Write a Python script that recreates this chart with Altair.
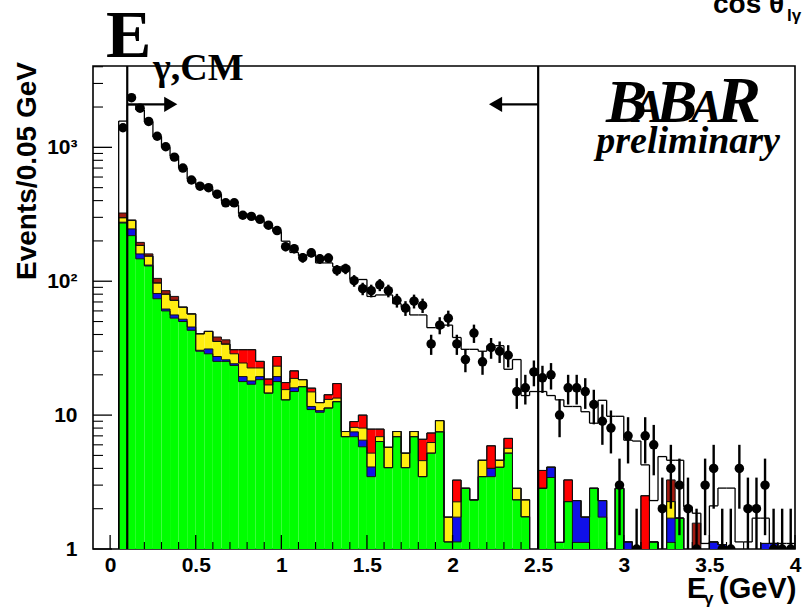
import altair as alt
import pandas as pd
import numpy as np

# ---------------- data (bins of 0.05 GeV from 0 to 4 GeV) ----------------
bin_lo = [round(0.05 * i, 2) for i in range(80)]

data_counts = [0, 1400, 2350, 1960, 1560, 1210, 1010, 845, 700, 570,
               513, 500, 447, 385, 385, 311, 305, 290, 262, 239,
               181, 175, 150, 163, 147, 149, 121, 124, 101, 88,
               85, 94, 85, 72, 63, 71, 66, 34, 47, 53,
               34, 26, 41, 25, 32, 30, 28, 15, 16, 21,
               19, 20, 10, 16, 16, 15, 12, 9, 8, 3,
               7, 1, 7, 6, 2, 4, 3, 2, 1, 3,
               4, 1, 1, 4, 2, 2, 3, 1, 1, 1]

mc_total = [0, 1570, 2080, 1900, 1550, 1200, 1000, 860, 700, 580,
            520, 490, 445, 395, 370, 320, 300, 285, 255, 235,
            199, 164, 155, 160, 137, 137, 128, 128, 103, 103,
            77, 79, 79, 68, 64, 56, 56, 45, 45, 47,
            38, 31, 31, 30, 33, 33, 22, 26, 14, 15,
            15, 14, 13, 11.6, 11.6, 10.6, 8.7, 12.9, 9.8, 9.8,
            6.5, 6.4, 4.25, 2.3, 4.9, 4.6, 4.6, 2.07, 1.85, 1.1,
            2.1, 2.85, 2.85, 1.13, 1.13, 1.7, 1.7, 1.1, 1.1, 1.1]

green = [0, 272, 219, 147, 130, 74, 60, 53, 50, 43,
         30, 28.7, 25.2, 25.2, 23.5, 17.8, 17, 18.4, 14.6, 17.8,
         13, 15, 16.3, 11, 10.5, 11.3, 12.6, 6.9, 6.9, 5.8,
         3.47, 6.35, 4.05, 6.9, 4.05, 6.9, 3.47, 5.2, 7.5, 1.13,
         1.13, 2.84, 2.33, 3.47, 3.47, 4.08, 5.2, 2.33, 1.74, 0,
         2.84, 3.42, 1.12, 2.26, 1.12, 1.12, 2.84, 1.73, 0, 2.84,
         0, 0, 0, 1.13, 0, 1.12, 1.7, 0, 0, 0,
         0, 0, 0, 0, 0, 0, 0, 0, 0, 0]
blue = [0, 4, 27, 13, 2, 7, 2, 3, 2, 2.5,
        0.5, 2.5, 2.2, 0.7, 0.7, 1.6, 1, 1, 0, 1.6,
        0, 1, 0, 0.6, 0.3, 0, 0, 0, 0.6, 0.7,
        0.63, 0, 0, 0, 0, 0, 0, 0, 0, 0,
        0.6, 0, 0, 0, 0.53, 0, 0, 0, 0, 0,
        0, 0.66, 0, 0, 1.18, 0.61, 0, 0.57, 0, 0,
        1.13, 0, 0, 0, 0, 0.58, 0, 0, 0, 0,
        1.13, 1.08, 0, 0, 0, 0, 1.1, 1.1, 0, 0]
yellow = [0, 22, 38, 25, 22, 16, 18, 16, 12, 11.5,
          10, 11, 8.1, 8, 4.5, 5.1, 4.5, 3.1, 2.2, 3.8,
          2.5, 2.8, 2.1, 3.3, 1.6, 1.8, 0.8, 0.64, 0.6, 1.5,
          1.1, 0.55, 1.7, 0.64, 1.15, 0.64, 1.1, 1.04, 1.6, 0.6,
          0.52, 0, 0, 1.13, 0, 0.52, 0.45, 0.51, 0.59, 0,
          0, 0, 0, 0, 0, 0, 0, 0, 0, 0,
          0, 0, 0, 0, 0, 0.56, 0, 0, 0, 0,
          0, 0, 0, 0, 0, 0, 0, 0, 0, 0]
red = [0, 0, 0, 0, 0, 0, 0, 0, 0, 0,
       0, 0, 0, 0, 2.1, 6.3, 8.3, 2.7, 1.8, 4.2,
       2, 2.6, 0, 1.0, 0, 1.1, 3.8, 0, 0.85, 2.0,
       2.66, 0.96, 0, 0, 0, 0, 2.03, 1.11, 0, 0,
       1.02, 0, 0, 0, 1.9, 0, 1.05, 0, 0, 0,
       1.02, 0, 0, 1.02, 0, 0, 0, 0, 0, 0,
       0, 0, 2.5, 0, 0, 0, 0, 0, 0, 0,
       0, 0, 0, 0, 0, 0, 0, 0, 0, 0]
brown = [0, 25, 3, 10, 6, 8, 5, 5, 0, 0,
         0, 0, 2.8, 2.6, 0, 0, 0, 0, 0, 0,
         0, 0, 0, 0, 0, 0, 0, 0, 0, 0,
         0, 0, 0, 0, 0, 0, 0, 0, 0, 0,
         0, 0, 0, 0, 0, 0, 0, 0, 0, 0,
         0, 0, 0, 0, 0, 0, 0, 0, 0, 0,
         0, 0, 0, 0, 0, 1.02, 0, 0, 1.56, 0,
         0, 0, 0, 0, 0, 0, 0, 0, 0, 0]

components = ["green", "blue", "yellow", "red", "brown"]
comp_colors = ["#00ff00", "#1010e8", "#ffee10", "#ff0000", "#a01a10"]

x_ticks_major = [0, 0.5, 1, 1.5, 2, 2.5, 3, 3.5, 4]
x_ticks_minor = [round(0.1 * i, 1) for i in range(0, 41) if (i % 5) != 0]
y_ticks_major = [1, 10, 100, 1000]
y_ticks_minor = [m * 10 ** k for k in range(0, 4) for m in range(2, 10) if m * 10 ** k < 4050]

cut_lines = [0.1, 2.5]

# ---------------- build tables ----------------
FLOOR = 0.3
W = 0.05
comp_vals = [green, blue, yellow, red, brown]

rect_rows = []
cum = np.zeros(80)
levels = []
for name, vals in zip(components, comp_vals):
    v = np.array(vals, dtype=float)
    for i in range(80):
        if v[i] > 0:
            lo = cum[i] if cum[i] > 0 else FLOOR
            rect_rows.append(dict(x=bin_lo[i], x2=bin_lo[i] + W, y=lo, y2=cum[i] + v[i], comp=name))
    cum = cum + v
    levels.append(cum.copy())
rect_df = pd.DataFrame(rect_rows)


def step_segments(level):
    segs = []
    n = len(level)
    for i in range(n):
        if level[i] > 0:
            segs.append(dict(x=bin_lo[i], x2=bin_lo[i] + W, y=level[i], y2=level[i]))
    for j in range(n + 1):
        left = level[j - 1] if j > 0 else 0
        right = level[j] if j < n else 0
        if abs(left - right) > 1e-9 and max(left, right) > 0:
            xe = bin_lo[j] if j < n else bin_lo[n - 1] + W
            segs.append(dict(x=xe, x2=xe, y=max(min(left, right), FLOOR), y2=max(left, right)))
    return segs


stack_outline = []
for lv in levels:
    stack_outline += step_segments(lv)
stack_outline_df = pd.DataFrame(stack_outline)
mc_df = pd.DataFrame(step_segments(np.array(mc_total, dtype=float)))

pts = []
for i, c in enumerate(data_counts):
    if c > 0:
        e = np.sqrt(c)
        pts.append(dict(x=bin_lo[i] + W / 2, y=c, lo=max(c - e, FLOOR), hi=c + e))
pts_df = pd.DataFrame(pts)

# ---------------- scales / axes (shared by every layer) ----------------
x_scale = alt.Scale(domain=[-0.1, 4.0], nice=False, zero=False)
y_scale = alt.Scale(type="log", domain=[1, 4050], nice=False)

AX_FONT = "Liberation Sans"

x_axis = alt.Axis(values=x_ticks_major, title=None, ticks=False, domain=False, grid=False,
                  labelFont=AX_FONT, labelFontWeight="bold", labelFontSize=21, labelColor="black",
                  labelPadding=5, labelFlush=False,
                  labelExpr="format(datum.value, '~g')")
y_axis = alt.Axis(values=y_ticks_major, title=None, ticks=False, domain=False, grid=False,
                  labelFont=AX_FONT, labelFontWeight="bold", labelFontSize=21, labelColor="black",
                  labelPadding=16,
                  labelExpr="datum.value == 1 ? '1' : datum.value == 10 ? '10' : datum.value == 100 ? '10²' : '10³'")


def X(field):
    return alt.X(field, type="quantitative", scale=x_scale, axis=x_axis)


def Y(field):
    return alt.Y(field, type="quantitative", scale=y_scale, axis=y_axis)


base_rect = alt.Chart(rect_df).mark_rect(clip=True).encode(
    x=X("x"), x2="x2", y=Y("y"), y2="y2",
    color=alt.Color("comp:N", scale=alt.Scale(domain=components, range=comp_colors), legend=None),
)

stack_lines = alt.Chart(stack_outline_df).mark_rule(clip=True, color="#111111", strokeWidth=1).encode(
    x=X("x"), x2="x2", y=Y("y"), y2="y2")

mc_lines = alt.Chart(mc_df).mark_rule(clip=True, color="black", strokeWidth=1.3).encode(
    x=X("x"), x2="x2", y=Y("y"), y2="y2")

cuts = alt.Chart(pd.DataFrame({"x": cut_lines})).mark_rule(color="black", strokeWidth=2.2).encode(
    x=X("x"), y=alt.value(0), y2=alt.value(483))

err = alt.Chart(pts_df).mark_rule(clip=True, color="black", strokeWidth=2.4).encode(
    x=X("x"), y=Y("lo"), y2="hi")

dots = alt.Chart(pts_df).mark_circle(clip=True, color="black", size=90, opacity=1).encode(
    x=X("x"), y=Y("y"))

# arrows (annotation geometry in data space)
arrow_df = pd.DataFrame({"x": [0.1, 2.5], "x2": [0.36, 2.25], "y": [2094, 2094]})
arrow_lines = alt.Chart(arrow_df).mark_rule(color="black", strokeWidth=2.2).encode(
    x=X("x"), x2="x2", y=Y("y"))
heads_df = pd.DataFrame({"x": [0.354, 2.251], "y": [2094, 2094], "shape": ["triangle-right", "triangle-left"]})
arrow_heads = alt.Chart(heads_df).mark_point(filled=True, color="black", size=230, opacity=1).encode(
    x=X("x"), y=Y("y"), shape=alt.Shape("shape:N", scale=None))

# manual inward ticks
xt_major = alt.Chart(pd.DataFrame({"x": x_ticks_major})).mark_rule(color="black", strokeWidth=1.3).encode(
    x=X("x"), y=alt.value(483), y2=alt.value(469))
xt_minor = alt.Chart(pd.DataFrame({"x": x_ticks_minor})).mark_rule(color="black", strokeWidth=1.1).encode(
    x=X("x"), y=alt.value(483), y2=alt.value(476))
yt_major = alt.Chart(pd.DataFrame({"y": y_ticks_major})).mark_rule(color="black", strokeWidth=1.3).encode(
    y=Y("y"), x=alt.value(0), x2=alt.value(19))
yt_minor = alt.Chart(pd.DataFrame({"y": y_ticks_minor})).mark_rule(color="black", strokeWidth=1.1).encode(
    y=Y("y"), x=alt.value(0), x2=alt.value(10))

one = pd.DataFrame({"a": [0]})


def txt(s, x, y, size, font="Liberation Serif", weight="bold", style="normal", align="left", angle=0,
        baseline="alphabetic"):
    kw = dict(text=s, font=font, fontSize=size, fontWeight=weight, fontStyle=style, align=align,
              baseline=baseline, color="black")
    if angle:
        kw["angle"] = angle
    return alt.Chart(one).mark_text(**kw).encode(x=alt.value(x), y=alt.value(y))


texts = [
    txt("E", 13, -9, 68),
    txt("γ,CM", 60, 14, 38),
    txt("B", 513, 56, 62, style="italic"),
    txt("A", 540, 56, 46, style="italic"),
    txt("B", 563, 56, 62, style="italic"),
    txt("A", 598, 56, 46, style="italic"),
    txt("R", 624, 56, 66, style="italic"),
    txt("preliminary", 687, 87, 38, style="italic", align="right"),
    txt("cos θ", 620, -53, 28, font=AX_FONT),
    txt("lγ", 694, -45, 17, font=AX_FONT),
    txt("Events/0.05 GeV", -57, 105, 28, font=AX_FONT, angle=270, align="center"),
    txt("E", 594, 532, 29, font=AX_FONT),
    txt("γ", 611, 538, 17, font=AX_FONT),
    txt("(GeV)", 626, 532, 29, font=AX_FONT),
]

chart = alt.layer(
    base_rect, stack_lines, mc_lines, cuts, err, dots, arrow_lines, arrow_heads,
    xt_major, xt_minor, yt_major, yt_minor, *texts
).properties(
    width=702, height=483,
    padding={"left": 93, "top": 66, "right": 9, "bottom": 60},
    autosize=alt.AutoSizeParams(type="none"),
    background="white",
).configure_view(stroke="black", strokeWidth=1.6)

chart.save("out.html", embed_options={"renderer": "svg", "actions": False})
